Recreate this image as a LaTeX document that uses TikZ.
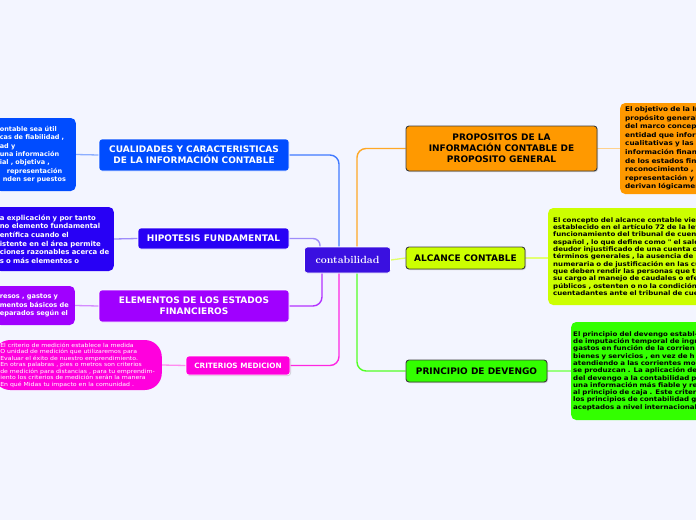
\documentclass[tikz,border=0pt]{standalone}
\usepackage{fontspec}
\newfontfamily\vf{DejaVu Sans}
\newfontfamily\vfw{DejaVu Sans}[FakeStretch=1.12]
\usetikzlibrary{shadows,backgrounds}
\definecolor{bg}{RGB}{243,245,255}
\definecolor{cblue}{RGB}{0,76,255}
\definecolor{cind}{RGB}{40,0,245}
\definecolor{cpur}{RGB}{160,0,255}
\definecolor{cmag}{RGB}{255,0,221}
\definecolor{corg}{RGB}{255,153,0}
\definecolor{cyel}{RGB}{204,255,0}
\definecolor{cgrn}{RGB}{51,255,0}
\definecolor{ccen}{RGB}{58,16,224}
\definecolor{cdark}{RGB}{60,60,60}
\tikzset{
  topic/.style={rounded corners=3pt, inner sep=0pt, align=center,
    font=\vf\bfseries\fontsize{9}{11}\selectfont},
  ltopic/.style={topic, draw=white, line width=0.6pt, text=white},
  rtopic/.style={topic, draw=cdark, line width=0.9pt, text=black,
    drop shadow={shadow xshift=1pt, shadow yshift=-1pt, opacity=0.35}},
  ltext/.style={rounded corners=5pt, inner ysep=0pt, align=left, text=white,
    font=\vf\bfseries\fontsize{6.5}{8.4}\selectfont},
  rtext/.style={rounded corners=5pt, inner ysep=0pt, align=left, text=black,
    font=\vfw\bfseries\fontsize{6.3}{7.3}\selectfont},
  conn/.style={line width=1.4pt, rounded corners=9pt},
  leaf/.style={line width=1.3pt}
}
\begin{document}
\begin{tikzpicture}[x=1pt,y=-1pt]
\clip (0,0) rectangle (696,520);

% center
\node[topic, fill=ccen, draw=white, line width=0.6pt, text=white,
  minimum width=86pt, minimum height=26pt,
  font=\bfseries\fontsize{10.4}{12}\selectfont] (cen) at (347.5,260) {contabilidad};

% left topics
\node[ltopic, fill=cblue, minimum width=190pt, minimum height=32pt] (cual) at (194,155)
  {CUALIDADES Y CARACTERISTICAS\\DE LA INFORMACIÓN CONTABLE};
\node[ltopic, fill=cind, minimum width=151pt, minimum height=21pt] (hip) at (213.5,238.5)
  {HIPOTESIS FUNDAMENTAL};
\node[ltopic, fill=cpur, minimum width=190pt, minimum height=32pt] (elem) at (194,306)
  {ELEMENTOS DE LOS ESTADOS\\FINANCIEROS};
\node[ltopic, fill=cmag, minimum width=104pt, minimum height=19pt,
  font=\vf\bfseries\fontsize{7.3}{9}\selectfont,
  drop shadow={shadow xshift=1pt, shadow yshift=-1pt, opacity=0.3}] (crit) at (238,365.5)
  {CRITERIOS MEDICION};

% left texts
\node[ltext, fill=cblue, anchor=east, inner xsep=4pt, text width=72pt, minimum height=73pt] (cualt) at (76,154.5)
  {ontable sea útil\\cas de fiabilidad ,\\ad y\\una información\\ial , objetiva ,\\\hspace*{7pt}representación\\\hspace*{3pt}nden ser puestos};
\node[ltext, fill=cind, anchor=east, inner xsep=4pt, text width=110pt, minimum height=64pt,
  font=\vf\bfseries\fontsize{6.9}{8.6}\selectfont] (hipt) at (114,239)
  {a explicación y por tanto\\no elemento fundamental\\entífica cuando el\\istente en el área permite\\ciones razonables acerca de\\s o más elementos o};
\node[ltext, fill=cpur, anchor=east, inner xsep=4pt, text width=71pt, minimum height=39pt,
  font=\vf\bfseries\fontsize{6.6}{8.6}\selectfont] (elemt) at (75,305.5)
  {resos , gastos y\\mentos básicos de\\eparados según el};
\node[fill=cmag, rounded corners=17pt, anchor=east, inner xsep=7pt, inner ysep=0pt,
  minimum width=162pt, minimum height=50pt, align=left, text=white,
  font=\vfw\fontsize{5.5}{6.5}\selectfont] (critt) at (162,365)
  {El criterio de medición establece la medida\\O unidad de medición que utilizaremos para\\Evaluar el éxito de nuestro emprendimiento.\\En otras palabras , pies o metros son criterios\\de medición para distancias , para tu emprendim-\\iento los criterios de medición serán la manera\\En qué Midas tu impacto en la comunidad .};

% right topics
\node[rtopic, fill=corg, minimum width=191pt, minimum height=45pt] (prop) at (501.5,148.5)
  {PROPOSITOS DE LA\\INFORMACIÓN CONTABLE DE\\PROPOSITO GENERAL};
\node[rtopic, fill=cyel, minimum width=119pt, minimum height=22pt] (alc) at (465.5,258)
  {ALCANCE CONTABLE};
\node[rtopic, fill=cgrn, minimum width=141pt, minimum height=22pt] (dev) at (476.5,371)
  {PRINCIPIO DE DEVENGO};

% right texts
\node[rtext, fill=corg, anchor=west, inner xsep=5pt, text width=130pt, minimum height=91pt,
  font=\vfw\bfseries\fontsize{6.5}{8.6}\selectfont] (propt) at (620,148.5)
  {El objetivo de la In\\propósito general\\del marco concept\\entidad que inform\\cualitativas y las r\\información financ\\de los estados fina\\reconocimiento , la\\representación y la\\derivan lógicamen};
\node[rtext, fill=cyel, anchor=west, inner xsep=5pt, text width=170pt, minimum height=97pt] (alct) at (548,256.5)
  {El concepto del alcance contable vien\\establecido en el artículo 72 de la ley\\funcionamiento del tribunal de cuent\\español , lo que define como " el sald\\deudor injustificado de una cuenta o\\términos generales , la ausencia de\\numeraria o de justificación en las cu\\que deben rendir las personas que te\\su cargo al manejo de caudales o efe\\públicos , ostenten o no la condición\\cuentadantes ante el tribunal de cue};
\node[rtext, fill=cgrn, anchor=west, inner xsep=2pt, text width=150pt, minimum height=98pt] (devt) at (571,371)
  {El principio del devengo establ-\\de imputación temporal de ingr\\gastos en función de la corrien\\bienes y servicios , en vez de h\\atendiendo a las corrientes mo\\se produzcan . La aplicación de\\del devengo a la contabilidad p\\una información más fiable y re\\al principio de caja . Este criter\\los principios de contabilidad g\\aceptados a nivel internacional};

\begin{scope}[on background layer]
\fill[bg] (0,0) rectangle (696,520);
% connectors center -> topics
\draw[conn, draw=cblue!75] ([xshift=-8.5pt]cen.north) |- (cual.east);
\draw[conn, draw=corg!85] ([xshift=9.5pt]cen.north) |- (prop.west);
\draw[conn, draw=cind!45, rounded corners=7pt] ([xshift=-27.5pt]cen.north) |- (hip.east);
\draw[conn, draw=cpur!80] ([xshift=-25.5pt]cen.south) |- (elem.east);
\draw[conn, draw=cmag!85] ([xshift=-8.5pt]cen.south) |- (crit.east);
\draw[conn, draw=cgrn!85] ([xshift=9.5pt]cen.south) |- (dev.west);
\draw[leaf, draw=cyel!60] (cen.east) -- (alc.west);
% topics -> texts
\draw[leaf, draw=cblue!45] (cualt.east) -- (cual.west);
\draw[leaf, draw=cind!45] (hipt.east) -- (hip.west);
\draw[leaf, draw=cpur!45] (elemt.east) -- (elem.west);
\draw[leaf, draw=cmag!45] (critt.east) -- (crit.west);
\draw[leaf, draw=corg!45] (prop.east) -- (propt.west);
\draw[leaf, draw=cyel!55] (alc.east) -- (alc.east -| alct.west);
\draw[leaf, draw=cgrn!50] (dev.east) -- (devt.west);
\end{scope}
\end{tikzpicture}
\end{document}
